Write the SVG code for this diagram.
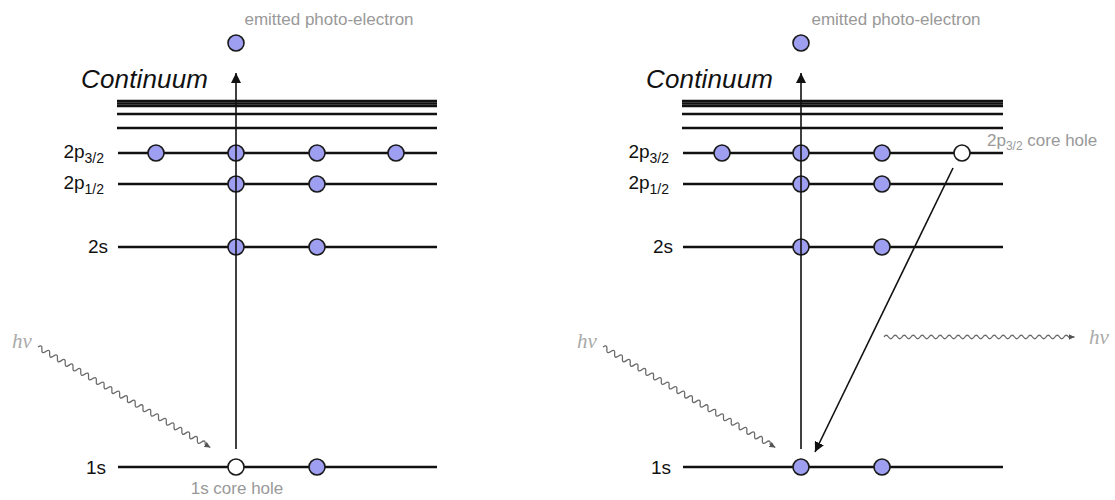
<svg xmlns="http://www.w3.org/2000/svg" width="1115" height="500" viewBox="0 0 1115 500">
<defs>
<style>
.lvl{stroke:#111;stroke-width:2.5;fill:none}
.cont{stroke:#111;stroke-width:2.5;fill:none}
.e{fill:#9f9ff2;stroke:#1a1a1a;stroke-width:1.6}
.h{fill:#fff;stroke:#1a1a1a;stroke-width:1.6}
.ax{stroke:#111;stroke-width:1.6;fill:none}
.wave{stroke:#6a6a6a;stroke-width:1.3;fill:none}
.lab{font-family:"Liberation Sans",Arial,sans-serif;font-size:19px;fill:#111}
.gl{font-family:"Liberation Sans",Arial,sans-serif;font-size:17px;fill:#999}
.cn{font-family:"Liberation Sans",Arial,sans-serif;font-size:26px;font-style:italic;fill:#111}
.hv{font-family:"Liberation Serif","Times New Roman",serif;font-size:21px;font-style:italic;fill:#aaa}
</style>
<marker id="ah" viewBox="0 0 10 10" refX="10" refY="5" markerWidth="10" markerHeight="10" markerUnits="userSpaceOnUse" orient="auto"><path d="M0,0 L10,5 L0,10 z" fill="#111"/></marker>
<marker id="wh" viewBox="0 0 10 10" refX="10" refY="5" markerWidth="6" markerHeight="6" markerUnits="userSpaceOnUse" orient="auto"><path d="M0,0 L10,5 L0,10 z" fill="#555"/></marker>
</defs>
<rect width="1115" height="500" fill="#fff"/>

<g id="left-panel">
<g id="L-continuum">
<line class="cont" x1="117" y1="101" x2="437" y2="101"/>
<line class="cont" x1="117" y1="103.5" x2="437" y2="103.5"/>
<line class="cont" x1="117" y1="106" x2="437" y2="106"/>
<line class="cont" x1="117" y1="114" x2="437" y2="114"/>
<line class="cont" x1="117" y1="128" x2="437" y2="128"/>
<text class="cn" x="81" y="88" textLength="127">Continuum</text>
</g>
<g id="L-2p32">
<line class="lvl" x1="118" y1="153" x2="437" y2="153"/>
<text class="lab" x="104" y="158" text-anchor="end">2p<tspan font-size="14" dy="5">3/2</tspan></text>
<circle class="e" cx="156" cy="153" r="8"/><circle class="e" cx="236" cy="153" r="8"/><circle class="e" cx="317" cy="153" r="8"/><circle class="e" cx="396" cy="153" r="8"/>
</g>
<g id="L-2p12">
<line class="lvl" x1="118" y1="184" x2="437" y2="184"/>
<text class="lab" x="104" y="189" text-anchor="end">2p<tspan font-size="14" dy="5">1/2</tspan></text>
<circle class="e" cx="236" cy="184" r="8"/><circle class="e" cx="317" cy="184" r="8"/>
</g>
<g id="L-2s">
<line class="lvl" x1="118" y1="247" x2="437" y2="247"/>
<text class="lab" x="108" y="253" text-anchor="end">2s</text>
<circle class="e" cx="236" cy="247" r="8"/><circle class="e" cx="317" cy="247" r="8"/>
</g>
<g id="L-1s">
<line class="lvl" x1="118" y1="467" x2="437" y2="467"/>
<text class="lab" x="106" y="474" text-anchor="end">1s</text>
<circle class="h" cx="236" cy="467" r="8"/><circle class="e" cx="317" cy="467" r="8"/>
<text class="gl" x="237" y="494" text-anchor="middle">1s core hole</text>
</g>
<g id="L-photoelectron">
<circle class="e" cx="236" cy="43" r="8"/>
<text class="gl" x="329" y="25" text-anchor="middle">emitted photo-electron</text>
</g>
<g id="L-photon">
<text class="hv" x="12" y="348">hν</text>
</g>
</g>

<g id="right-panel">
<g id="R-continuum">
<line class="cont" x1="682" y1="101" x2="1003" y2="101"/>
<line class="cont" x1="682" y1="103.5" x2="1003" y2="103.5"/>
<line class="cont" x1="682" y1="106" x2="1003" y2="106"/>
<line class="cont" x1="682" y1="114" x2="1003" y2="114"/>
<line class="cont" x1="682" y1="128" x2="1003" y2="128"/>
<text class="cn" x="646" y="88" textLength="127">Continuum</text>
</g>
<g id="R-2p32">
<line class="lvl" x1="683" y1="153" x2="1003" y2="153"/>
<text class="lab" x="669" y="158" text-anchor="end">2p<tspan font-size="14" dy="5">3/2</tspan></text>
<circle class="e" cx="722" cy="153" r="8"/><circle class="e" cx="801" cy="153" r="8"/><circle class="e" cx="882" cy="153" r="8"/><circle class="h" cx="962" cy="153" r="8"/>
<text class="gl" x="987" y="146">2p<tspan font-size="12" dy="4">3/2</tspan><tspan dy="-4"> core hole</tspan></text>
</g>
<g id="R-2p12">
<line class="lvl" x1="683" y1="184" x2="1003" y2="184"/>
<text class="lab" x="669" y="189" text-anchor="end">2p<tspan font-size="14" dy="5">1/2</tspan></text>
<circle class="e" cx="801" cy="184" r="8"/><circle class="e" cx="882" cy="184" r="8"/>
</g>
<g id="R-2s">
<line class="lvl" x1="683" y1="247" x2="1003" y2="247"/>
<text class="lab" x="673" y="253" text-anchor="end">2s</text>
<circle class="e" cx="801" cy="247" r="8"/><circle class="e" cx="882" cy="247" r="8"/>
</g>
<g id="R-1s">
<line class="lvl" x1="683" y1="467" x2="1003" y2="467"/>
<text class="lab" x="671" y="474" text-anchor="end">1s</text>
<circle class="e" cx="801" cy="467" r="8"/><circle class="e" cx="882" cy="467" r="8"/>
</g>
<g id="R-photoelectron">
<circle class="e" cx="801" cy="43" r="8"/>
<text class="gl" x="896" y="25" text-anchor="middle">emitted photo-electron</text>
</g>
<g id="R-photon-in">
<text class="hv" x="577" y="348">hν</text>
</g>
<g id="R-photon-out">
<text class="hv" x="1089" y="344">hν</text>
</g>
</g>

<g id="connectors">
<line class="ax" x1="236" y1="449" x2="236" y2="73" marker-end="url(#ah)"/>
<line class="ax" x1="801" y1="449" x2="801" y2="73" marker-end="url(#ah)"/>
<line class="ax" x1="953" y1="168" x2="815" y2="452" marker-end="url(#ah)"/>
<g transform="translate(38,347) rotate(30.24)">
<path class="wave" marker-end="url(#wh)" d="M0 0 q2.25 -5 4.5 0 t4.5 0 t4.5 0 t4.5 0 t4.5 0 t4.5 0 t4.5 0 t4.5 0 t4.5 0 t4.5 0 t4.5 0 t4.5 0 t4.5 0 t4.5 0 t4.5 0 t4.5 0 t4.5 0 t4.5 0 t4.5 0 t4.5 0 t4.5 0 t4.5 0 t4.5 0 t4.5 0 t4.5 0 t4.5 0 t4.5 0 t4.5 0 t4.5 0 t4.5 0 t4.5 0 t4.5 0 t4.5 0 t4.5 0 t4.5 0 t4.5 0 t4.5 0 t4.5 0 t4.5 0 t4.5 0 t4.5 0 t4.5 0 t4.5 0 l6 0"/>
</g>
<g transform="translate(603,347) rotate(30.24)">
<path class="wave" marker-end="url(#wh)" d="M0 0 q2.25 -5 4.5 0 t4.5 0 t4.5 0 t4.5 0 t4.5 0 t4.5 0 t4.5 0 t4.5 0 t4.5 0 t4.5 0 t4.5 0 t4.5 0 t4.5 0 t4.5 0 t4.5 0 t4.5 0 t4.5 0 t4.5 0 t4.5 0 t4.5 0 t4.5 0 t4.5 0 t4.5 0 t4.5 0 t4.5 0 t4.5 0 t4.5 0 t4.5 0 t4.5 0 t4.5 0 t4.5 0 t4.5 0 t4.5 0 t4.5 0 t4.5 0 t4.5 0 t4.5 0 t4.5 0 t4.5 0 t4.5 0 t4.5 0 t4.5 0 t4.5 0 l6 0"/>
</g>
<g transform="translate(884,337)">
<path class="wave" marker-end="url(#wh)" d="M0 0 q2.25 -3.5 4.5 0 t4.5 0 t4.5 0 t4.5 0 t4.5 0 t4.5 0 t4.5 0 t4.5 0 t4.5 0 t4.5 0 t4.5 0 t4.5 0 t4.5 0 t4.5 0 t4.5 0 t4.5 0 t4.5 0 t4.5 0 t4.5 0 t4.5 0 t4.5 0 t4.5 0 t4.5 0 t4.5 0 t4.5 0 t4.5 0 t4.5 0 t4.5 0 t4.5 0 t4.5 0 t4.5 0 t4.5 0 t4.5 0 t4.5 0 t4.5 0 t4.5 0 t4.5 0 t4.5 0 t4.5 0 t4.5 0 t4.5 0 l6 0"/>
</g>
</g>
</svg>
